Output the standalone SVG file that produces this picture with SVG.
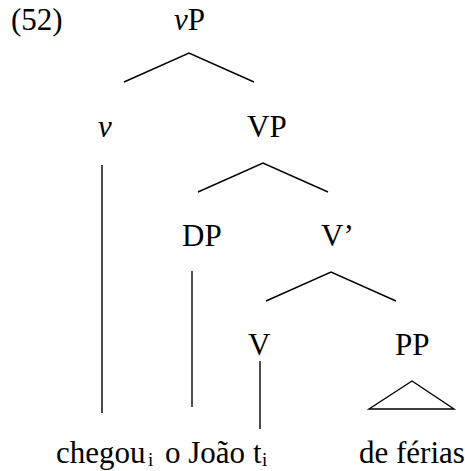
<svg xmlns="http://www.w3.org/2000/svg" width="465" height="471" viewBox="0 0 465 471">
  <style>
    text { font-family: "Liberation Serif", "Times New Roman", "DejaVu Serif", serif; font-size: 31px; fill: #000; }
    .it { font-style: italic; }
    .sub { font-size: 19px; }
    .edge { stroke: #000; stroke-width: 1.4; fill: none; stroke-linecap: butt; }
  </style>
  <rect width="465" height="471" fill="#fff"/>

  <!-- example number -->
  <text id="exnum" x="11" y="30">(52)</text>

  <!-- connectors -->
  <g id="edges">
    <polyline class="edge" points="124,82 189,53 254,82"/>
    <line class="edge" x1="102" y1="165" x2="102" y2="413"/>
    <polyline class="edge" points="198,192 263,163 328,192"/>
    <line class="edge" x1="192" y1="271" x2="192" y2="407"/>
    <polyline class="edge" points="266,301 331,272 396,301"/>
    <line class="edge" x1="260" y1="361" x2="260" y2="429"/>
    <polygon class="edge" points="412,381 369,409 454,409"/>
  </g>

  <!-- tree nodes -->
  <g id="node-vP"><text x="174" y="30"><tspan class="it">v</tspan>P</text></g>
  <g id="node-v"><text class="it" x="98" y="137">v</text></g>
  <g id="node-VP"><text x="247" y="137">VP</text></g>
  <g id="node-DP"><text x="182" y="246">DP</text></g>
  <g id="node-Vbar"><text x="321" y="246">V’</text></g>
  <g id="node-V"><text x="248" y="355">V</text></g>
  <g id="node-PP"><text x="395" y="355">PP</text></g>

  <!-- terminals -->
  <g id="leaf-chegou"><text x="56" y="463">chegou</text><text class="sub" x="148" y="466">i</text></g>
  <g id="leaf-joao"><text x="165" y="463">o João</text></g>
  <g id="leaf-t"><text x="253" y="463">t</text><text class="sub" x="262" y="466">i</text></g>
  <g id="leaf-ferias"><text x="359" y="463">de férias</text></g>
</svg>
